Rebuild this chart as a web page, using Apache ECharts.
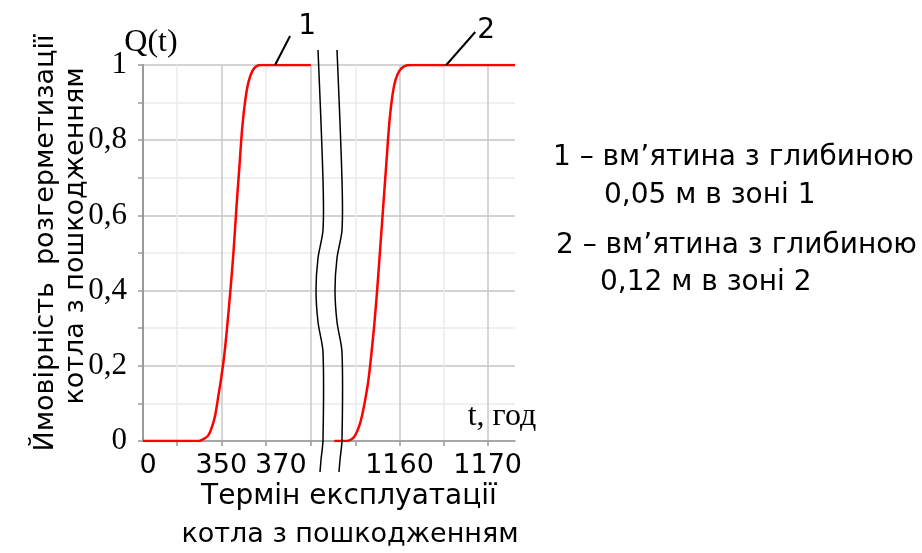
<!DOCTYPE html>
<html><head><meta charset="utf-8">
<script src="https://cdn.jsdelivr.net/npm/echarts@6/dist/echarts.min.js"></script>
<style>html,body{margin:0;padding:0;background:#fff}#c{width:922px;height:553px}</style>
</head><body><div id="c"></div>
<script>
// Curve 1: dent 0.05 m in zone 1 (left axis segment)
const curve1T = [332.5, 344.83, 345.96, 347.08, 347.98, 348.65, 349.33, 350.00, 350.67, 351.35, 352.02, 352.70, 353.37, 354.04, 354.72, 355.39, 356.07, 356.97, 357.87, 358.99, 370];
const curve1Q = [0, 0, 0.005, 0.015, 0.04, 0.07, 0.12, 0.17, 0.23, 0.31, 0.40, 0.50, 0.62, 0.73, 0.84, 0.91, 0.955, 0.985, 0.997, 1, 1];
// Curve 2: dent 0.12 m in zone 2 (right axis segment)
const curve2T = [1152.6, 1153.94, 1154.51, 1154.97, 1155.43, 1155.77, 1156.11, 1156.46, 1156.80, 1157.14, 1157.49, 1157.83, 1158.17, 1158.51, 1158.86, 1159.20, 1159.54, 1160.00, 1160.57, 1161.26, 1173.1];
const curve2Q = [0, 0, 0.004, 0.015, 0.04, 0.07, 0.11, 0.16, 0.23, 0.31, 0.41, 0.52, 0.63, 0.74, 0.85, 0.92, 0.96, 0.985, 0.997, 1, 1];
// ticks / labels
const leftTicks = [340, 350, 360, 370];
const rightTicks = [1155, 1160, 1165, 1170];
const leftLabelVals = [332.5, 350, 370];
const rightLabelVals = [1160, 1170];
const curveNames = ['1', '2'];
const legendLines = ['1 – вм’ятина з глибиною', '0,05 м в зоні 1', '2 – вм’ятина з глибиною', '0,12 м в зоні 2'];
const yTitle = ['Ймовірність  розгерметизації', 'котла з пошкодженням'];
const xTitle = ['Термін експлуатації', 'котла з пошкодженням'];
const yName = 'Q(t)';
const xName = 't, год';

const SANS = '"DejaVu Sans", "Liberation Sans", Arial, sans-serif';
const SERIF = '"Liberation Serif", "Times New Roman", serif';

const chart = echarts.init(document.getElementById('c'));
const xCommon = {
  type: 'value', position: 'bottom', offset: 0,
  axisTick: { show: true, length: 5, lineStyle: { color: '#999', width: 1.5 } },
  splitLine: { show: true, lineStyle: { color: ['#ebebeb', '#c9c9c9'], width: 1.5 } },
};
const option = {
  animation: false,
  grid: { left: 143, right: 407, top: 65, bottom: 112, containLabel: false },
  xAxis: [
    Object.assign({}, xCommon, {
      min: 332.5, max: 415.6,
      axisLine: { show: true, lineStyle: { color: '#999', width: 1.5 } },
      axisTick: Object.assign({}, xCommon.axisTick, { customValues: leftTicks }),
      axisLabel: {
        customValues: leftLabelVals, margin: 11, color: '#000', fontFamily: SANS, fontSize: 27,
        formatter: v => v === 332.5 ? '{z|0}' : (v === 370 ? '{s|370}' : String(v)),
        rich: {
          z: { fontFamily: SANS, fontSize: 27, color: '#000', padding: [0, 0, 0, 10] },
          s: { fontFamily: SANS, fontSize: 27, color: '#000', padding: [0, 60, 0, 0] }
        }
      }
    }),
    Object.assign({}, xCommon, {
      min: 1130.9, max: 1173.1,
      axisLine: { show: false },
      axisTick: Object.assign({}, xCommon.axisTick, { customValues: rightTicks }),
      axisLabel: { customValues: rightLabelVals, margin: 11, color: '#000', fontFamily: SANS, fontSize: 27,
        formatter: v => String(v) }
    })
  ],
  yAxis: {
    type: 'value', min: 0, max: 1, interval: 0.2,
    axisLine: { show: true, lineStyle: { color: '#999', width: 2 } },
    axisTick: { show: true, length: 5, lineStyle: { color: '#999', width: 1.5 } },
    minorTick: { show: true, splitNumber: 2, length: 5, lineStyle: { color: '#999', width: 1.5 } },
    splitLine: { show: true, lineStyle: { color: '#c4c4c4', width: 1.5 } },
    minorSplitLine: { show: true, lineStyle: { color: '#ececec', width: 1.5 } },
    axisLabel: {
      margin: 16, color: '#000', fontFamily: SERIF, fontSize: 31,
      formatter: v => String(v).replace('.', ',')
    }
  },
  series: [
    { type: 'line', name: curveNames[0], xAxisIndex: 0, yAxisIndex: 0, showSymbol: false,
      smooth: 0.4,
      lineStyle: { color: '#ff0000', width: 2.5 },
      data: curve1T.map((t, i) => [t, curve1Q[i]]) },
    { type: 'line', name: curveNames[1], xAxisIndex: 1, yAxisIndex: 0, showSymbol: false,
      smooth: 0.4,
      lineStyle: { color: '#ff0000', width: 2.5 },
      data: curve2T.map((t, i) => [t, curve2Q[i]]) }
  ]
};
chart.setOption(option);

const a1 = chart.convertToPixel({ seriesIndex: 0 }, [362, 1]);
const a2 = chart.convertToPixel({ seriesIndex: 1 }, [1165.3, 1]);
function txt(x, y, text, font, align, rot) {
  return { type: 'text', x: x, y: y, rotation: rot || 0, z: 10,
    style: { text: text, font: font, fill: '#000', align: align || 'center', verticalAlign: 'middle' } };
}
const brkL = [[318,50],[323,180],[323,230],[318,258],[316,290],[318,322],[323,352],[323,440],[321,460],[320,472]];
const brkR = brkL.map(p => [p[0] + 19, p[1]]);
chart.setOption({
  graphic: [
    { type: 'polyline', shape: { points: brkL, smooth: 0.3 }, style: { stroke: '#000', lineWidth: 1.5, fill: null }, z: 10 },
    { type: 'polyline', shape: { points: brkR, smooth: 0.3 }, style: { stroke: '#000', lineWidth: 1.5, fill: null }, z: 10 },
    { type: 'line', shape: { x1: a1[0], y1: a1[1], x2: a1[0] + 15, y2: a1[1] - 29 }, style: { stroke: '#000', lineWidth: 2 }, z: 10 },
    { type: 'line', shape: { x1: a2[0], y1: a2[1], x2: a2[0] + 29, y2: a2[1] - 33 }, style: { stroke: '#000', lineWidth: 2 }, z: 10 },
    txt(a1[0] + 32, a1[1] - 38, curveNames[0], '28px ' + SANS),
    txt(a2[0] + 40, a2[1] - 34, curveNames[1], '28px ' + SANS),
    txt(151, 43, yName, '32px ' + SERIF),
    txt(502, 417, xName, '32px ' + SERIF),
    txt(553, 158, legendLines[0], '28px ' + SANS, 'left'),
    txt(604, 196, legendLines[1], '28px ' + SANS, 'left'),
    txt(556, 246, legendLines[2], '28px ' + SANS, 'left'),
    txt(600, 283, legendLines[3], '28px ' + SANS, 'left'),
    txt(46, 243, yTitle[0], '27px ' + SANS, 'center', Math.PI / 2),
    txt(76, 236, yTitle[1], '27px ' + SANS, 'center', Math.PI / 2),
    txt(349, 497, xTitle[0], '28px ' + SANS),
    txt(350, 535, xTitle[1], '27px ' + SANS)
  ]
});
</script>
</body></html>
